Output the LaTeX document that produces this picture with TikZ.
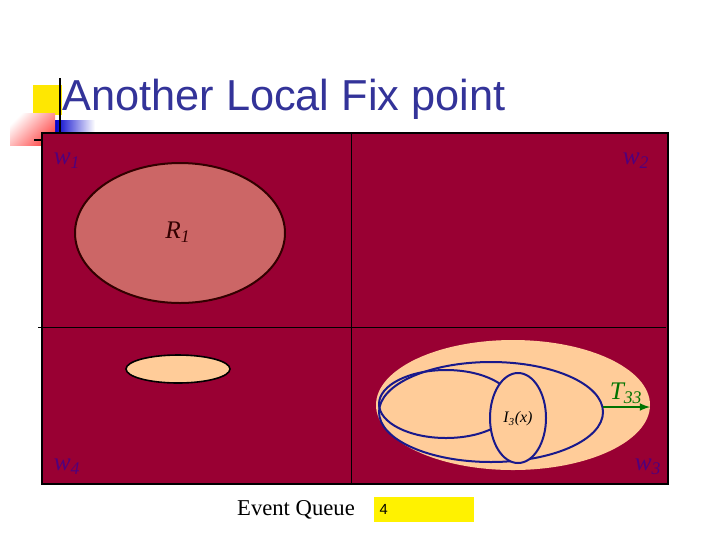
\documentclass[tikz,border=0pt]{standalone}
\usepackage{fontspec}
\setsansfont{Liberation Sans}
\setmainfont{Liberation Serif}
\begin{document}
\begin{tikzpicture}[x=0.75pt,y=-0.75pt,
  wlab/.style={text=blue!45!violet!80!black,font=\itshape\fontsize{19}{22}\selectfont,opacity=0.75},
  blueell/.style={draw=blue!50!black!90,line width=1.5pt}]
\definecolor{maroon}{HTML}{990033}
\definecolor{rose}{HTML}{CC6666}
\definecolor{peach}{HTML}{FFCC99}
\definecolor{titleblue}{HTML}{333399}
\useasboundingbox (0,0) rectangle (720,540);
% decorations
\fill[yellow!90!orange] (33,85) rectangle (62,115);
\shade[left color=blue!80!black, right color=white] (55,120) rectangle (95,133);
\shade[left color=white, right color=red!70, shading angle=45] (10,113) rectangle (55,145);
\draw[line width=1.2pt] (60,78) -- (60,133);
\node[anchor=base west,font=\sffamily\fontsize{32.5}{36}\selectfont,text=titleblue,inner sep=0] (title) at (62,110) {Another Local Fix point};
% main box
\draw[fill=maroon,line width=1.8pt] (42,133) rectangle (668,484);
\draw[line width=0.6pt] (351,133) -- (351,484);
\draw[line width=0.6pt] (38,327) -- (666,327);
\draw[line width=0.8pt] (34,140) -- (42,140);
\node[wlab] (w1) at (67,161) {w\textsubscript{1}};
\node[wlab] (w2) at (636,161) {w\textsubscript{2}};
\node[wlab] (w4) at (67,467) {w\textsubscript{4}};
\node[wlab] (w3) at (648,467) {w\textsubscript{3}};
\draw[fill=rose,line width=1.5pt,draw=black!80!red] (180,233) ellipse [x radius=105,y radius=70];
\node[font=\itshape\fontsize{19}{22}\selectfont,text=black!80!red] (r1) at (178,232) {R\textsubscript{1}};
\draw[fill=peach,line width=1.2pt] (178,369) ellipse [x radius=52,y radius=14];
\fill[peach] (513,405) ellipse [x radius=137,y radius=65];
\draw[blueell] (491,412) ellipse [x radius=112,y radius=50];
\draw[blueell] (446,404) ellipse [x radius=67,y radius=34];
\draw[blueell,fill=peach] (518,418) ellipse [x radius=28,y radius=45];
\node[font=\itshape\fontsize{12}{14}\selectfont] (i3) at (518,419) {I\textsubscript{3}(x)};
\coordinate (a0) at (603,407);
\coordinate (a1) at (650,407);
\draw[green!45!black,line width=1.6pt,-latex] (a0) -- (a1);
\node[text=green!45!black,font=\itshape\fontsize{19}{22}\selectfont] (t33) at (626,393) {T\textsubscript{33}};
\node[font=\fontsize{17}{20}\selectfont] (eq) at (296,510) {Event Queue};
\node[fill=yellow,minimum height=25*0.75pt,text width=100*0.75pt-8pt,inner xsep=4pt,inner ysep=0,anchor=west,align=left,font=\sffamily\fontsize{11}{13}\selectfont] (q) at (374,509) {4};
\end{tikzpicture}
\end{document}
